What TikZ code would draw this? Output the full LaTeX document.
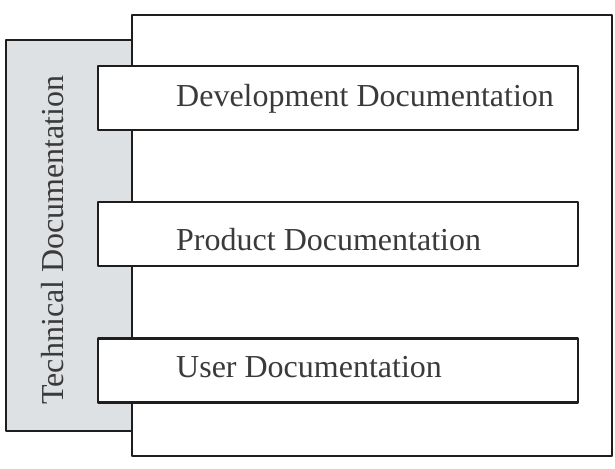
\documentclass[tikz,border=0pt]{standalone}
\usepackage{fontspec}
\setmainfont{Liberation Serif}
\definecolor{LineDark}{HTML}{1E1E1E}
\definecolor{TextGray}{HTML}{3A3A3A}
\definecolor{StripGray}{HTML}{DEE1E3}
\tikzset{
  strip/.style={draw=LineDark,line width=2.4pt,fill=StripGray,inner sep=0pt},
  frame/.style={draw=LineDark,line width=2.4pt,fill=white,inner sep=0pt},
  layer/.style={draw=LineDark,line width=2.4pt,fill=white,inner sep=0pt,minimum width=480pt,minimum height=64pt},
  label/.style={font=\fontsize{32}{38}\selectfont,text=TextGray,inner sep=0pt},
}

\begin{document}
\begin{tikzpicture}[x=1pt,y=1pt,line cap=round,line join=round]
\useasboundingbox (0,0) rectangle (615,468);

% Gray strip behind the frame
\node[strip,minimum width=126pt,minimum height=391pt] (tech) at (69,232.5) {};
\node[label,rotate=90,anchor=base] (techlab) at (63,228) {Technical Documentation};

% Outer frame
\node[frame,minimum width=480pt,minimum height=441pt] (frame) at (372,232.5) {};

% Layers
\node[layer] (dev)  at (338,370) {};
\node[layer] (prod) at (338,234) {};
\node[layer] (user) at (338,97.5) {};

\node[label,anchor=base west] (devlab)  at (176,361) {Development Documentation};
\node[label,anchor=base west] (prodlab) at (176,217) {Product Documentation};
\node[label,anchor=base west] (userlab) at (176,90)  {User Documentation};

\end{tikzpicture}
\end{document}
